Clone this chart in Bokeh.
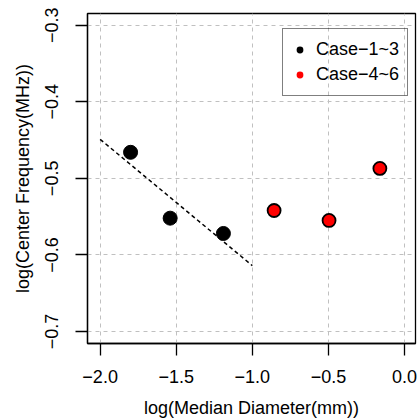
import numpy as np
from bokeh.plotting import figure
from bokeh.models import Range1d, FixedTicker, Legend, LegendItem
from bokeh.embed import file_html
from bokeh.resources import INLINE

# ---- data ----
case13_x = [-1.80, -1.54, -1.19]
case13_y = [-0.466, -0.552, -0.572]
case46_x = [-0.857, -0.496, -0.162]
case46_y = [-0.542, -0.555, -0.487]
fit_x = [-2.0, -1.0]
fit_y = [-0.449, -0.614]
x_ticks = [-2.0, -1.5, -1.0, -0.5, 0.0]
y_ticks = [-0.7, -0.6, -0.5, -0.4, -0.3]
legend_labels = ["Case\u22121~3", "Case\u22124~6"]

FONT = "Liberation Sans"

p = figure(width=419, height=420, output_backend="svg", toolbar_location=None,
           x_range=Range1d(-2.083, 0.072), y_range=Range1d(-0.7157, -0.2847),
           min_border_left=87, min_border_right=4, min_border_top=13, min_border_bottom=77)
p.background_fill_color = "white"
p.border_fill_color = "white"
p.outline_line_color = "black"
p.outline_line_width = 1.3

def lab(v):
    s = f"{v:.1f}"
    return s.replace("-", "\u2212")

for ax, ticks in ((p.xaxis[0], x_ticks), (p.yaxis[0], y_ticks)):
    ax.ticker = FixedTicker(ticks=ticks)
    ax.major_label_overrides = {t: lab(t) for t in ticks}
    ax.major_tick_out = 12
    ax.major_tick_in = 0
    ax.minor_tick_out = 0
    ax.minor_tick_in = 0
    ax.major_tick_line_color = "black"
    ax.major_tick_line_width = 1.3
    ax.axis_line_color = "black"
    ax.axis_line_width = 1.3
    ax.major_label_text_font = FONT
    ax.major_label_text_font_size = "18px"
    ax.major_label_text_color = "black"
    ax.axis_label_text_font = FONT
    ax.axis_label_text_font_size = "18px"
    ax.axis_label_text_font_style = "normal"
    ax.axis_label_text_color = "black"

p.xaxis.axis_label = "log(Median Diameter(mm))"
p.yaxis.axis_label = "log(Center Frequency(MHz))"
p.xaxis.major_label_standoff = 14
p.xaxis.axis_label_standoff = 12
p.yaxis.major_label_orientation = "vertical"
p.yaxis.major_label_standoff = 17
p.yaxis.axis_label_standoff = 10

for g in (p.xgrid[0], p.ygrid[0]):
    g.grid_line_color = "#c0c0c0"
    g.grid_line_dash = "4 4"
    g.grid_line_width = 1
p.xgrid.ticker = FixedTicker(ticks=x_ticks)
p.ygrid.ticker = FixedTicker(ticks=y_ticks)

p.line(fit_x, fit_y, line_color="black", line_dash="4 3", line_width=1.5)
p.scatter(case13_x, case13_y, size=14, fill_color="black", line_color="black", line_width=1)
p.scatter(case46_x, case46_y, size=13, fill_color="red", line_color="black", line_width=1.8)

# legend proxies (not drawn in the plot area)
r1 = p.scatter([np.nan], [np.nan], size=7, fill_color="black", line_color="black", line_width=0)
r2 = p.scatter([np.nan], [np.nan], size=7, fill_color="red", line_color="red", line_width=0)

legend = Legend(items=[LegendItem(label=legend_labels[0], renderers=[r1]),
                       LegendItem(label=legend_labels[1], renderers=[r2])],
                location=(195, 247), margin=0, padding=8, spacing=0,
                glyph_width=17, glyph_height=25, label_height=25, label_standoff=8,
                label_text_font=FONT, label_text_font_size="18px", label_text_color="black",
                border_line_color="black", border_line_width=1.3,
                background_fill_alpha=0)
p.add_layout(legend)

open("out.html", "w").write(file_html(p, INLINE))
